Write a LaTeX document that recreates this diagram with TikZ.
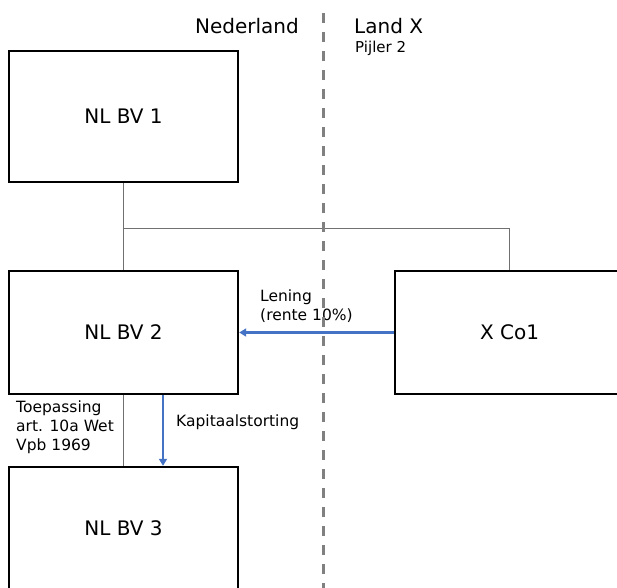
\documentclass[tikz,border=0pt]{standalone}
\usepackage{fontspec}
\setmainfont{DejaVu Sans}
\usetikzlibrary{arrows.meta}
\definecolor{flowblue}{HTML}{4472C4}
\definecolor{linkgray}{HTML}{707070}
\begin{document}
\begin{tikzpicture}[x=1pt, y=-1pt,
        box/.style={draw, line width=2.4pt, minimum width=229pt, inner sep=0pt, font=\fontsize{20}{24}\selectfont},
        link/.style={linkgray, line width=0.9pt},
        flow/.style={flowblue, line width=2.2pt, -{Triangle[length=7pt, width=8pt]}},
        note/.style={inner sep=0pt, align=left, font=\fontsize{15.5}{18.7}\selectfont}]
        \useasboundingbox (0, 0) rectangle (617, 587);
        \clip (0, 0) rectangle (617, 587);

        \node[box, minimum height=131pt] (bv1) at (123.5, 116.5) {NL BV 1};
        \node[box, minimum height=123pt] (bv2) at (123.5, 332.5) {NL BV 2};
        \node[box, minimum height=123pt] (bv3) at (123.5, 528.5) {NL BV 3};
        \node[box, minimum height=123pt] (xco) at (509.5, 332.5) {X Co1};

        \node[anchor=base east, inner sep=0pt, font=\fontsize{20}{24}\selectfont] (nl) at (299, 33) {Nederland};
        \node[anchor=base west, inner sep=0pt, font=\fontsize{20}{24}\selectfont] (landx) at (354, 33) {Land X};
        \node[anchor=base west, note, font=\fontsize{15}{18}\selectfont] (pijler) at (355, 52) {Pijler 2};

        \coordinate (split) at (123.5, 228);
        \draw[link] (bv1.south) -- (bv2.north);
        \draw[link] (split) -| (xco.north);
        \draw[link] (bv2.south) -- (bv3.north);

        \draw[flow] (xco.west) -- (bv2.east);
        \draw[flow] ([xshift=39.5pt]bv2.south) -- ([xshift=39.5pt]bv3.north);

        \node[note, anchor=north west] (lening) at (260, 290) {Lening\\(rente 10\%)};
        \node[note, anchor=base west] (kapitaal) at (176, 426) {Kapitaalstorting};
        \node[note, anchor=north west] (toepassing) at (16, 401) {Toepassing\\art. 10a Wet\\Vpb 1969};

        \coordinate (bordertop) at (323, 13);
        \coordinate (borderbottom) at (323, 595);
        \draw[gray, line width=3pt, dash pattern=on 10pt off 9pt] (bordertop) -- (borderbottom);
    \end{tikzpicture}
\end{document}
